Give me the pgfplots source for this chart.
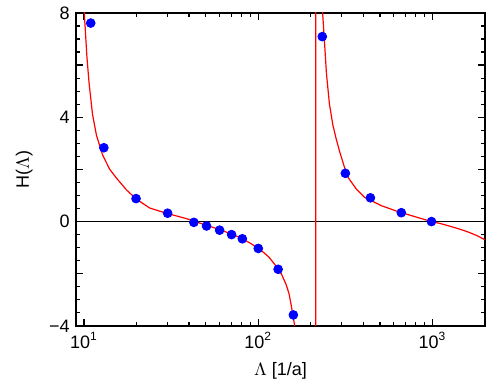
\documentclass[border=0pt]{standalone}
\usepackage{fontspec}
\setmainfont{Liberation Sans}
\usepackage{pgfplots}
\pgfplotsset{compat=1.18}
\usetikzlibrary{calc}

\begin{document}
\begin{tikzpicture}
\fontsize{9}{11}\selectfont
\begin{axis}[
    name=ax,
    scale only axis,
    width=204.5pt,
    height=156.5pt,
    xmode=log,
    xmin=9, xmax=2000,
    ymin=-4, ymax=8,
    xtick={10,100,1000},
    xticklabels={10\textsuperscript{1},10\textsuperscript{2},10\textsuperscript{3}},
    ytick={-4,-2,0,2,4,6,8},
    yticklabels={−4,,0,,4,,8},
    minor ytick={-3.5,-3,...,7.5},
    tick align=inside,
    major tick length=3.5pt,
    minor tick length=2.2pt,
    tick style={black, line width=0.6pt},
    axis line style={black, line width=0.7pt},
    xtick pos=both, ytick pos=both,
    xticklabel pos=lower, yticklabel pos=left,
    xlabel={$\Lambda$ [1/a]},
    ylabel={H($\Lambda$)},
    xlabel style={yshift=-1pt},
    ylabel style={xshift=0pt, yshift=2pt},
    clip=true,
]

% Nulllinie
\addplot[black, line width=0.5pt] coordinates {(9,0) (2000,0)};

% Modellkurve
\addplot[red, line width=0.6pt] coordinates {
    (9.8,10) (10.04,8.0) (10.4,6.3) (10.7,5.3) (11.2,4.1) (11.8,3.3) (12.8,2.55)
    (14.0,2.02) (15.3,1.68) (17.5,1.22) (19.9,0.87) (23.8,0.52) (29.7,0.32)
    (36,0.17) (42.3,0.04) (46.7,-0.07) (53,-0.19) (60.8,-0.32) (65.8,-0.41)
    (79.3,-0.62) (90,-0.83) (103,-1.08) (115,-1.36) (126,-1.69) (136,-2.02)
    (144,-2.39) (150,-2.75) (154,-3.15) (162,-4.02) (175,-6.5) (190,-11)
    (205,-30) (214,-300) (214,300) (225,25) (234,8.0) (239,7.06) (246,5.7)
    (256,4.51) (268,3.7) (280,3.17) (292,2.72) (310,2.15) (327,1.70) (365,1.25)
    (407,0.93) (508,0.61) (634,0.38) (800,0.18) (986,0.0) (1100,-0.07)
    (1230,-0.16) (1400,-0.27) (1600,-0.40) (1800,-0.54) (2000,-0.70)
};

% Messwerte
\addplot[only marks, mark=*, mark size=2.2pt, blue, mark options={fill=blue, draw=blue}] coordinates {
    (10.93,7.61) (13.0,2.83) (19.9,0.88) (30.2,0.32) (42.7,-0.03) (50.5,-0.17)
    (60,-0.33) (70.3,-0.50) (81,-0.66) (100,-1.03) (130,-1.83) (159,-3.58)
    (233,7.09) (316,1.85) (440,0.91) (662,0.34) (986,0.0)
};

\end{axis}
\pgfresetboundingbox
\path ($(ax.south west)+(-38pt,-31.5pt)$) rectangle ($(ax.north east)+(3pt,6.5pt)$);
\end{tikzpicture}
\end{document}
